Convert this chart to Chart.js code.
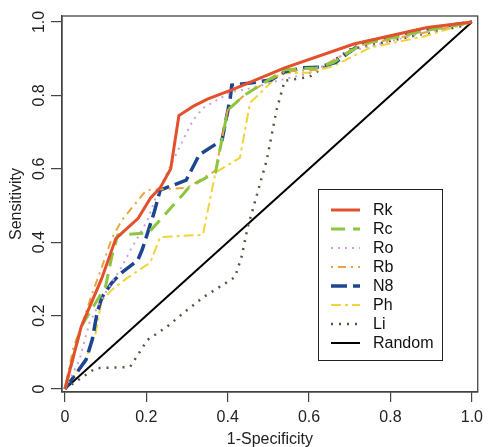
<!DOCTYPE html>
<html>
<head>
<meta charset="utf-8">
<script src="https://cdn.jsdelivr.net/npm/chart.js@4.4.0/dist/chart.umd.min.js"></script>
<style>
  html, body { margin: 0; padding: 0; background: #fff; }
  #wrap { width: 489px; height: 447px; }
</style>
</head>
<body>
<div id="wrap"><canvas id="roc"></canvas></div>
<script>
// ROC curves as [1-specificity, sensitivity]
const tickValues = [0, 0.2, 0.4, 0.6, 0.8, 1.0];
const tickLabels = ['0', '0.2', '0.4', '0.6', '0.8', '1.0'];

const rk = [[0,0],[0.04,0.17],[0.09,0.30],[0.125,0.41],[0.15,0.435],[0.18,0.465],[0.21,0.52],[0.235,0.55],[0.26,0.60],[0.28,0.745],[0.315,0.77],[0.35,0.79],[0.41,0.815],[0.54,0.875],[0.71,0.94],[0.89,0.985],[1,1]];
const rc = [[0,0],[0.04,0.17],[0.07,0.225],[0.10,0.28],[0.115,0.36],[0.13,0.42],[0.205,0.425],[0.29,0.53],[0.305,0.55],[0.37,0.59],[0.40,0.76],[0.44,0.80],[0.54,0.87],[0.62,0.875],[0.66,0.89],[0.73,0.94],[0.88,0.975],[1,1]];
const ro = [[0,0],[0.036,0.08],[0.06,0.18],[0.09,0.245],[0.138,0.33],[0.162,0.38],[0.203,0.46],[0.227,0.534],[0.258,0.605],[0.29,0.678],[0.315,0.733],[0.34,0.766],[0.41,0.81],[0.44,0.815],[0.53,0.842],[0.6,0.86],[0.7,0.92],[0.88,0.97],[1,1]];
const rb = [[0,0],[0.02,0.11],[0.043,0.18],[0.067,0.26],[0.09,0.33],[0.115,0.41],[0.14,0.46],[0.2,0.542],[0.3,0.548],[0.37,0.595],[0.40,0.76],[0.44,0.80],[0.54,0.865],[0.62,0.87],[0.72,0.935],[0.9,0.975],[1,1]];
const n8 = [[0,0],[0.052,0.08],[0.067,0.134],[0.079,0.207],[0.091,0.25],[0.115,0.289],[0.138,0.316],[0.179,0.351],[0.19,0.38],[0.219,0.48],[0.234,0.542],[0.298,0.569],[0.33,0.638],[0.386,0.678],[0.406,0.79],[0.41,0.828],[0.45,0.833],[0.506,0.842],[0.54,0.864],[0.585,0.875],[0.625,0.877],[0.665,0.89],[0.73,0.943],[0.87,0.978],[1,1]];
const ph = [[0,0],[0.05,0.08],[0.075,0.15],[0.09,0.24],[0.115,0.27],[0.15,0.30],[0.21,0.345],[0.234,0.414],[0.339,0.42],[0.37,0.59],[0.43,0.63],[0.455,0.78],[0.53,0.86],[0.6,0.862],[0.66,0.88],[0.75,0.93],[0.88,0.96],[1,1]];
const li = [[0,0],[0.076,0.057],[0.16,0.06],[0.203,0.134],[0.25,0.169],[0.30,0.215],[0.34,0.25],[0.418,0.305],[0.434,0.36],[0.449,0.44],[0.473,0.534],[0.496,0.624],[0.52,0.76],[0.54,0.84],[0.6,0.85],[0.7,0.925],[0.87,0.965],[0.98,0.99],[1,1]];
const random = [[0,0],[1,1]];

const FONT = '"Liberation Sans", Arial, Helvetica, sans-serif';

function pts(arr) {
    return arr.map(p => ({ x: p[0], y: p[1] }));
}

function serie(label, arr, color, width, dash) {
    return {
        label: label,
        data: pts(arr),
        borderColor: color,
        backgroundColor: color,
        borderWidth: width,
        borderDash: dash,
        pointRadius: 0,
        tension: 0,
        fill: false
    };
}

// y tick labels are read bottom to top, like R's default
const yLabels = {
    id: 'yLabels',
    afterDraw(chart) {
        const ctx = chart.ctx;
        const sy = chart.scales.y;
        ctx.save();
        ctx.fillStyle = '#222';
        ctx.font = '16px ' + FONT;
        ctx.textAlign = 'center';
        ctx.textBaseline = 'middle';
        sy.ticks.forEach((t, i) => {
            const py = sy.getPixelForValue(t.value);
            ctx.save();
            ctx.translate(40, py);
            ctx.rotate(-Math.PI / 2);
            ctx.fillText(tickLabels[i], 0, 0);
            ctx.restore();
        });
        ctx.restore();
    }
};

// box round the plot and the legend inside it
const boxAndLegend = {
    id: 'boxAndLegend',
    afterDraw(chart) {
        const ctx = chart.ctx;
        const a = chart.chartArea;
        ctx.save();
        ctx.strokeStyle = '#444';
        ctx.lineWidth = 1.3;
        ctx.strokeRect(a.left, a.top, a.right - a.left, a.bottom - a.top);

        ctx.lineWidth = 1;
        ctx.strokeStyle = '#222';
        ctx.strokeRect(318.5, 189.5, 124, 171);

        ctx.font = '16px ' + FONT;
        ctx.textAlign = 'left';
        ctx.textBaseline = 'middle';
        chart.data.datasets.forEach((ds, i) => {
            const y = 210 + i * 19;
            ctx.beginPath();
            ctx.setLineDash(ds.borderDash || []);
            ctx.strokeStyle = ds.borderColor;
            ctx.lineWidth = ds.borderWidth;
            ctx.moveTo(331, y);
            ctx.lineTo(360, y);
            ctx.stroke();
            ctx.setLineDash([]);
            ctx.fillStyle = '#111';
            ctx.fillText(ds.label, 373, y + 1);
        });
        ctx.restore();
    }
};

const grafico = new Chart(document.getElementById('roc'), {
    type: 'line',
    data: {
        datasets: [
            serie('Rk', rk, '#e4502c', 3, []),
            serie('Rc', rc, '#8cc63e', 3, [14, 8]),
            serie('Ro', ro, '#c8a2d8', 2, [2, 5]),
            serie('Rb', rb, '#eea43a', 2, [2, 5, 8, 5]),
            serie('N8', n8, '#1c4790', 3.5, [16, 6]),
            serie('Ph', ph, '#f0d43a', 2, [10, 4, 3, 4]),
            serie('Li', li, '#55553f', 2.5, [2, 6]),
            serie('Random', random, '#000000', 2, [])
        ]
    },
    options: {
        responsive: true,
        maintainAspectRatio: false,
        animation: false,
        devicePixelRatio: 1,
        layout: { padding: { top: 16, right: 0, left: 0, bottom: 0 } },
        plugins: {
            legend: { display: false },
            tooltip: { enabled: false }
        },
        scales: {
            x: {
                type: 'linear',
                min: -0.00718,
                max: 1.01435,
                afterBuildTicks: s => { s.ticks = tickValues.map(v => ({ value: v })); },
                afterFit: s => { s.height = 55; },
                ticks: {
                    color: '#222',
                    font: { size: 16, family: FONT },
                    padding: 6,
                    maxRotation: 0,
                    callback: (v, i) => tickLabels[i]
                },
                grid: { drawOnChartArea: false, drawTicks: true, tickLength: 10, color: '#444', lineWidth: 1.2 },
                border: { display: true, color: '#444', width: 1.3 },
                title: {
                    display: true,
                    text: '1-Specificity',
                    color: '#222',
                    font: { size: 16, family: FONT },
                    padding: { top: 0, bottom: -2 }
                }
            },
            y: {
                type: 'linear',
                min: -0.00817,
                max: 1.01635,
                afterBuildTicks: s => { s.ticks = tickValues.map(v => ({ value: v })); },
                afterFit: s => { s.width = 62; },
                ticks: { display: false },
                grid: { drawOnChartArea: false, drawTicks: true, tickLength: 11, color: '#444', lineWidth: 1.2 },
                border: { display: true, color: '#444', width: 1.3 },
                title: {
                    display: true,
                    text: 'Sensitivity',
                    color: '#222',
                    font: { size: 16, family: FONT },
                    padding: { top: 7, bottom: 0 }
                }
            }
        }
    },
    plugins: [yLabels, boxAndLegend]
});
</script>
</body>
</html>
